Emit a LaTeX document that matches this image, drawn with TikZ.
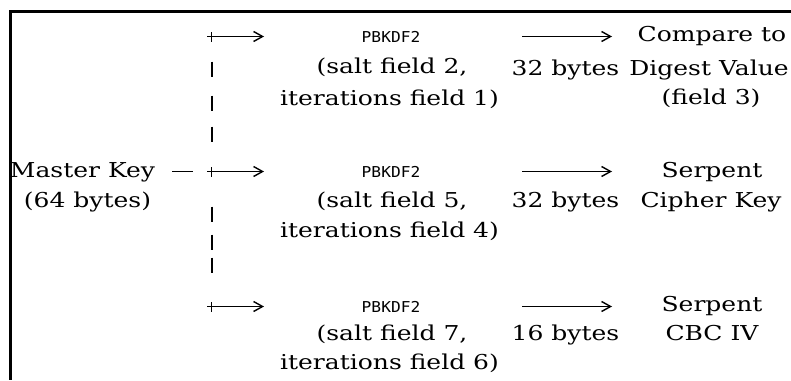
\documentclass[tikz,border=0pt]{standalone}
\usepackage{fontspec}
\usepackage{graphicx}
\setmainfont{DejaVu Serif}
\newfontfamily\pbfont{DejaVu Sans Mono}
\newcommand\widetxt[1]{\scalebox{1.22}[1]{#1}}
\newcommand\widepb[1]{\scalebox{1.08}[1]{#1}}
\usetikzlibrary{arrows.meta}
\begin{document}
\begin{tikzpicture}[x=1pt,y=-1pt,
  txt/.style={font=\fontsize{20.5}{24}\selectfont, inner sep=0pt, anchor=base},
  pb/.style={font=\pbfont\fontsize{15}{18}\selectfont, inner sep=0pt, anchor=base},
  arr/.style={line width=1.2pt, -{Straight Barb[length=9pt,width=10pt,line width=1.4pt]}},
  tick/.style={line width=2pt},
  plus/.style={line width=1.7pt},
  frame/.style={line width=2.6pt}]
\useasboundingbox (0,0) rectangle (791,380);
% frame
\draw[frame] (791,11.3) -- (10.3,11.3) -- (10.3,380);

% master key
\node[txt] (mk) at (82.5,177) {\widetxt{Master Key}};
\node[txt] (mkb) at (87.5,207) {\widetxt{(64 bytes)}};
\coordinate (d1) at (172,171.5);
\coordinate (d2) at (193,171.5);
\draw[tick,line width=1.6pt] (d1) -- (d2);

% split column
\foreach \r/\y in {1/36.5,2/171.5,3/306.5}{
  \coordinate (p\r) at (211.5,\y);
  \coordinate (e\r) at (264,\y);
  \draw[plus] ([xshift=-4.5pt]p\r) -- ([xshift=4.5pt]p\r);
  \draw[plus] ([yshift=-5pt]p\r) -- ([yshift=5pt]p\r);
  \draw[arr] (p\r) -- (e\r);
}
\foreach \i/\y in {a/69,b/103,c/134,d/214,e/242,f/265}{
  \coordinate (v\i1) at (211.5,\y-7.5);
  \coordinate (v\i2) at (211.5,\y+7.5);
  \draw[tick] (v\i1) -- (v\i2);
}

% row 1
\node[pb] (k1) at (391,42) {\widepb{PBKDF2}};
\node[txt] (s1) at (392,73.5) {\widetxt{(salt field 2,}};
\node[txt] (i1) at (389.5,105) {\widetxt{iterations field 1)}};
\coordinate (a1s) at (522,36.5);
\coordinate (a1e) at (612,36.5);
\draw[arr] (a1s) -- (a1e);
\node[txt] (b1) at (565.5,75.5) {\widetxt{32 bytes}};
\node[txt] (o1a) at (712,41.5) {\widetxt{Compare to}};
\node[txt] (o1b) at (709,75.5) {\widetxt{Digest Value}};
\node[txt] (o1c) at (711,104.5) {\widetxt{(field 3)}};

% row 2
\node[pb] (k2) at (391,177) {\widepb{PBKDF2}};
\node[txt] (s2) at (392,207) {\widetxt{(salt field 5,}};
\node[txt] (i2) at (389.5,237) {\widetxt{iterations field 4)}};
\coordinate (a2s) at (522,171.5);
\coordinate (a2e) at (612,171.5);
\draw[arr] (a2s) -- (a2e);
\node[txt] (b2) at (565.5,207) {\widetxt{32 bytes}};
\node[txt] (o2a) at (712,177) {\widetxt{Serpent}};
\node[txt] (o2b) at (711,207) {\widetxt{Cipher Key}};

% row 3
\node[pb] (k3) at (391,312) {\widepb{PBKDF2}};
\node[txt] (s3) at (392,340) {\widetxt{(salt field 7,}};
\node[txt] (i3) at (389.5,369) {\widetxt{iterations field 6)}};
\coordinate (a3s) at (522,306.5);
\coordinate (a3e) at (612,306.5);
\draw[arr] (a3s) -- (a3e);
\node[txt] (b3) at (565.5,340) {\widetxt{16 bytes}};
\node[txt] (o3a) at (712,311) {\widetxt{Serpent}};
\node[txt] (o3b) at (712,340) {\widetxt{CBC IV}};
\end{tikzpicture}
\end{document}
